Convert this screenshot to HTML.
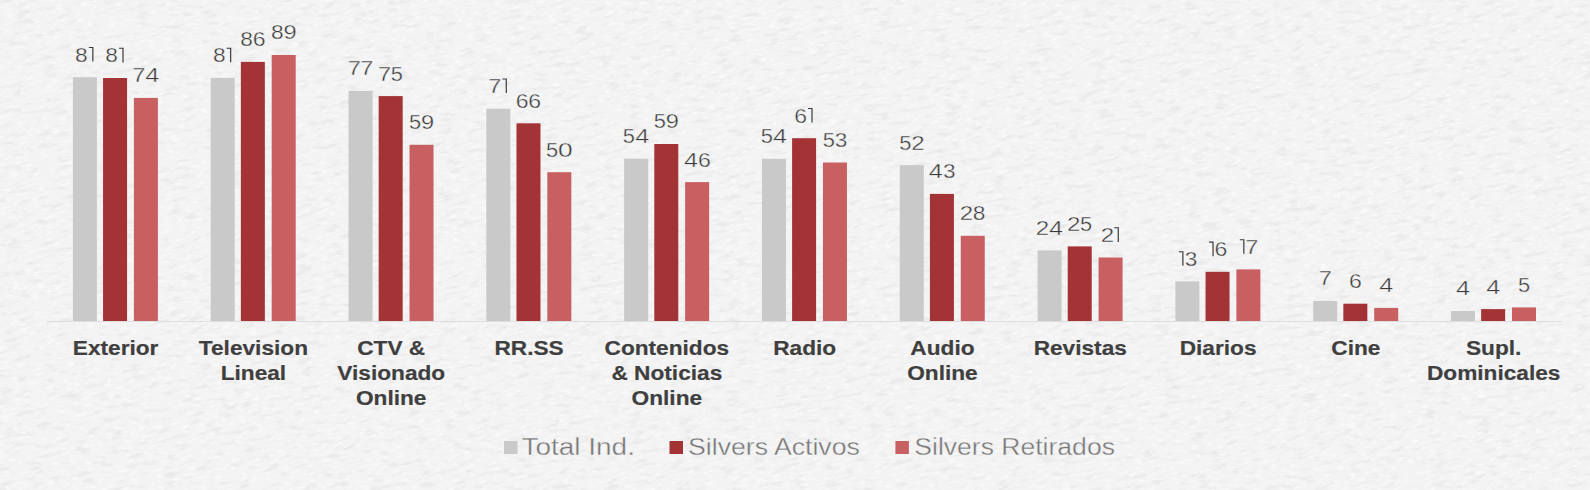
<!DOCTYPE html>
<html><head><meta charset="utf-8"><style>
html,body{margin:0;padding:0;width:1590px;height:490px;overflow:hidden;background:#f3f3f3;}
svg{display:block;font-family:"Liberation Sans",sans-serif;}
</style></head><body>
<svg width="1590" height="490" viewBox="0 0 1590 490">
<rect x="0" y="0" width="1590" height="490" fill="#f3f3f3"/>
<defs><filter id="pp" x="-400" y="-600" width="2400" height="1700" filterUnits="userSpaceOnUse">
<feTurbulence type="fractalNoise" baseFrequency="0.06 0.2" numOctaves="4" seed="7" result="n"/>
<feColorMatrix in="n" type="matrix" values="0 0 0 0 0  0 0 0 0 0  0 0 0 0 0  0 0 4.0 0 -2.0"/>
</filter>
<filter id="pw" x="-400" y="-600" width="2400" height="1700" filterUnits="userSpaceOnUse">
<feTurbulence type="fractalNoise" baseFrequency="0.12 0.4" numOctaves="3" seed="11" result="n"/>
<feColorMatrix in="n" type="matrix" values="0 0 0 0 1  0 0 0 0 1  0 0 0 0 1  0 0 4.0 0 -2.0"/>
</filter></defs>
<g transform="rotate(-10 795 245)">
<rect x="-400" y="-600" width="2400" height="1700" filter="url(#pp)" opacity="0.03"/>
<rect x="-400" y="-600" width="2400" height="1700" filter="url(#pw)" opacity="0.5"/>
</g>
<rect x="46.8" y="321.00" width="1515" height="1" fill="#dedede"/>
<rect x="72.90" y="77.20" width="24.0" height="243.80" fill="#c9c9c9"/>
<text transform="translate(81.45,61.60) scale(1.111,1) translate(-5.74,0)" font-size="20.5" fill="#3a3a3a" stroke="#f3f3f3" stroke-width="0.35">8</text>
<path d="M88.85,47.00H93.45V61.60H92.25V48.05H88.85Z" fill="#3a3a3a"/>
<rect x="103.05" y="78.00" width="24.0" height="243.00" fill="#a43335"/>
<text transform="translate(111.60,62.40) scale(1.111,1) translate(-5.74,0)" font-size="20.5" fill="#3a3a3a" stroke="#f3f3f3" stroke-width="0.35">8</text>
<path d="M119.00,47.80H123.60V62.40H122.40V48.85H119.00Z" fill="#3a3a3a"/>
<rect x="133.90" y="97.90" width="24.0" height="223.10" fill="#c86062"/>
<text transform="translate(138.70,82.30) scale(1.147,1) translate(-5.69,0)" font-size="20.5" fill="#3a3a3a" stroke="#f3f3f3" stroke-width="0.35">7</text>
<text transform="translate(152.15,82.30) scale(1.229,1) translate(-5.64,0)" font-size="20.5" fill="#3a3a3a" stroke="#f3f3f3" stroke-width="0.35">4</text>
<text x="0" y="0" transform="translate(115.60,355.10) scale(1.08,1)" text-anchor="middle" font-size="21.0" font-weight="bold" fill="#3f3f3f" stroke="#3f3f3f" stroke-width="0.2">Exterior</text>
<rect x="210.71" y="77.90" width="24.0" height="243.10" fill="#c9c9c9"/>
<text transform="translate(219.26,62.30) scale(1.111,1) translate(-5.74,0)" font-size="20.5" fill="#3a3a3a" stroke="#f3f3f3" stroke-width="0.35">8</text>
<path d="M226.66,47.70H231.26V62.30H230.06V48.75H226.66Z" fill="#3a3a3a"/>
<rect x="240.86" y="61.90" width="24.0" height="259.10" fill="#a43335"/>
<text transform="translate(246.66,46.30) scale(1.111,1) translate(-5.74,0)" font-size="20.5" fill="#3a3a3a" stroke="#f3f3f3" stroke-width="0.35">8</text>
<text transform="translate(259.11,46.30) scale(1.124,1) translate(-5.74,0)" font-size="20.5" fill="#3a3a3a" stroke="#f3f3f3" stroke-width="0.35">6</text>
<rect x="271.71" y="55.00" width="24.0" height="266.00" fill="#c86062"/>
<text transform="translate(277.31,39.40) scale(1.111,1) translate(-5.74,0)" font-size="20.5" fill="#3a3a3a" stroke="#f3f3f3" stroke-width="0.35">8</text>
<text transform="translate(289.96,39.40) scale(1.154,1) translate(-5.69,0)" font-size="20.5" fill="#3a3a3a" stroke="#f3f3f3" stroke-width="0.35">9</text>
<text x="0" y="0" transform="translate(253.41,355.10) scale(1.08,1)" text-anchor="middle" font-size="21.0" font-weight="bold" fill="#3f3f3f" stroke="#3f3f3f" stroke-width="0.2">Television</text>
<text x="0" y="0" transform="translate(253.41,380.00) scale(1.08,1)" text-anchor="middle" font-size="21.0" font-weight="bold" fill="#3f3f3f" stroke="#3f3f3f" stroke-width="0.2">Lineal</text>
<rect x="348.52" y="90.90" width="24.0" height="230.10" fill="#c9c9c9"/>
<text transform="translate(354.27,75.30) scale(1.147,1) translate(-5.69,0)" font-size="20.5" fill="#3a3a3a" stroke="#f3f3f3" stroke-width="0.35">7</text>
<text transform="translate(366.77,75.30) scale(1.147,1) translate(-5.69,0)" font-size="20.5" fill="#3a3a3a" stroke="#f3f3f3" stroke-width="0.35">7</text>
<rect x="378.67" y="96.10" width="24.0" height="224.90" fill="#a43335"/>
<text transform="translate(384.57,80.50) scale(1.147,1) translate(-5.69,0)" font-size="20.5" fill="#3a3a3a" stroke="#f3f3f3" stroke-width="0.35">7</text>
<text transform="translate(396.92,80.50) scale(1.068,1) translate(-5.69,0)" font-size="20.5" fill="#3a3a3a" stroke="#f3f3f3" stroke-width="0.35">5</text>
<rect x="409.52" y="144.80" width="24.0" height="176.20" fill="#c86062"/>
<text transform="translate(415.12,129.20) scale(1.068,1) translate(-5.69,0)" font-size="20.5" fill="#3a3a3a" stroke="#f3f3f3" stroke-width="0.35">5</text>
<text transform="translate(427.62,129.20) scale(1.154,1) translate(-5.69,0)" font-size="20.5" fill="#3a3a3a" stroke="#f3f3f3" stroke-width="0.35">9</text>
<text x="0" y="0" transform="translate(391.22,355.10) scale(1.08,1)" text-anchor="middle" font-size="21.0" font-weight="bold" fill="#3f3f3f" stroke="#3f3f3f" stroke-width="0.2">CTV &amp;</text>
<text x="0" y="0" transform="translate(391.22,380.00) scale(1.08,1)" text-anchor="middle" font-size="21.0" font-weight="bold" fill="#3f3f3f" stroke="#3f3f3f" stroke-width="0.2">Visionado</text>
<text x="0" y="0" transform="translate(391.22,405.20) scale(1.08,1)" text-anchor="middle" font-size="21.0" font-weight="bold" fill="#3f3f3f" stroke="#3f3f3f" stroke-width="0.2">Online</text>
<rect x="486.33" y="108.70" width="24.0" height="212.30" fill="#c9c9c9"/>
<text transform="translate(494.88,93.10) scale(1.147,1) translate(-5.69,0)" font-size="20.5" fill="#3a3a3a" stroke="#f3f3f3" stroke-width="0.35">7</text>
<path d="M502.28,78.50H506.88V93.10H505.68V79.55H502.28Z" fill="#3a3a3a"/>
<rect x="516.48" y="123.30" width="24.0" height="197.70" fill="#a43335"/>
<text transform="translate(522.28,107.70) scale(1.124,1) translate(-5.74,0)" font-size="20.5" fill="#3a3a3a" stroke="#f3f3f3" stroke-width="0.35">6</text>
<text transform="translate(534.68,107.70) scale(1.124,1) translate(-5.74,0)" font-size="20.5" fill="#3a3a3a" stroke="#f3f3f3" stroke-width="0.35">6</text>
<rect x="547.33" y="172.20" width="24.0" height="148.80" fill="#c86062"/>
<text transform="translate(552.18,156.60) scale(1.068,1) translate(-5.69,0)" font-size="20.5" fill="#3a3a3a" stroke="#f3f3f3" stroke-width="0.35">5</text>
<text transform="translate(565.43,156.60) scale(1.284,1) translate(-5.69,0)" font-size="20.5" fill="#3a3a3a" stroke="#f3f3f3" stroke-width="0.35">0</text>
<text x="0" y="0" transform="translate(529.03,355.10) scale(1.08,1)" text-anchor="middle" font-size="21.0" font-weight="bold" fill="#3f3f3f" stroke="#3f3f3f" stroke-width="0.2">RR.SS</text>
<rect x="624.14" y="158.70" width="24.0" height="162.30" fill="#c9c9c9"/>
<text transform="translate(628.94,143.10) scale(1.068,1) translate(-5.69,0)" font-size="20.5" fill="#3a3a3a" stroke="#f3f3f3" stroke-width="0.35">5</text>
<text transform="translate(642.24,143.10) scale(1.229,1) translate(-5.64,0)" font-size="20.5" fill="#3a3a3a" stroke="#f3f3f3" stroke-width="0.35">4</text>
<rect x="654.29" y="144.00" width="24.0" height="177.00" fill="#a43335"/>
<text transform="translate(659.89,128.40) scale(1.068,1) translate(-5.69,0)" font-size="20.5" fill="#3a3a3a" stroke="#f3f3f3" stroke-width="0.35">5</text>
<text transform="translate(672.39,128.40) scale(1.154,1) translate(-5.69,0)" font-size="20.5" fill="#3a3a3a" stroke="#f3f3f3" stroke-width="0.35">9</text>
<rect x="685.14" y="182.10" width="24.0" height="138.90" fill="#c86062"/>
<text transform="translate(690.94,166.50) scale(1.229,1) translate(-5.64,0)" font-size="20.5" fill="#3a3a3a" stroke="#f3f3f3" stroke-width="0.35">4</text>
<text transform="translate(704.34,166.50) scale(1.124,1) translate(-5.74,0)" font-size="20.5" fill="#3a3a3a" stroke="#f3f3f3" stroke-width="0.35">6</text>
<text x="0" y="0" transform="translate(666.84,355.10) scale(1.08,1)" text-anchor="middle" font-size="21.0" font-weight="bold" fill="#3f3f3f" stroke="#3f3f3f" stroke-width="0.2">Contenidos</text>
<text x="0" y="0" transform="translate(666.84,380.00) scale(1.08,1)" text-anchor="middle" font-size="21.0" font-weight="bold" fill="#3f3f3f" stroke="#3f3f3f" stroke-width="0.2">&amp; Noticias</text>
<text x="0" y="0" transform="translate(666.84,405.20) scale(1.08,1)" text-anchor="middle" font-size="21.0" font-weight="bold" fill="#3f3f3f" stroke="#3f3f3f" stroke-width="0.2">Online</text>
<rect x="761.95" y="158.80" width="24.0" height="162.20" fill="#c9c9c9"/>
<text transform="translate(766.75,143.20) scale(1.068,1) translate(-5.69,0)" font-size="20.5" fill="#3a3a3a" stroke="#f3f3f3" stroke-width="0.35">5</text>
<text transform="translate(780.05,143.20) scale(1.229,1) translate(-5.64,0)" font-size="20.5" fill="#3a3a3a" stroke="#f3f3f3" stroke-width="0.35">4</text>
<rect x="792.10" y="138.20" width="24.0" height="182.80" fill="#a43335"/>
<text transform="translate(800.65,122.60) scale(1.124,1) translate(-5.74,0)" font-size="20.5" fill="#3a3a3a" stroke="#f3f3f3" stroke-width="0.35">6</text>
<path d="M808.00,108.00H812.60V122.60H811.40V109.05H808.00Z" fill="#3a3a3a"/>
<rect x="822.95" y="162.50" width="24.0" height="158.50" fill="#c86062"/>
<text transform="translate(828.75,146.90) scale(1.068,1) translate(-5.69,0)" font-size="20.5" fill="#3a3a3a" stroke="#f3f3f3" stroke-width="0.35">5</text>
<text transform="translate(841.05,146.90) scale(1.100,1) translate(-5.64,0)" font-size="20.5" fill="#3a3a3a" stroke="#f3f3f3" stroke-width="0.35">3</text>
<text x="0" y="0" transform="translate(804.65,355.10) scale(1.08,1)" text-anchor="middle" font-size="21.0" font-weight="bold" fill="#3f3f3f" stroke="#3f3f3f" stroke-width="0.2">Radio</text>
<rect x="899.76" y="165.10" width="24.0" height="155.90" fill="#c9c9c9"/>
<text transform="translate(905.36,149.50) scale(1.068,1) translate(-5.69,0)" font-size="20.5" fill="#3a3a3a" stroke="#f3f3f3" stroke-width="0.35">5</text>
<text transform="translate(917.86,149.50) scale(1.179,1) translate(-5.69,0)" font-size="20.5" fill="#3a3a3a" stroke="#f3f3f3" stroke-width="0.35">2</text>
<rect x="929.91" y="193.90" width="24.0" height="127.10" fill="#a43335"/>
<text transform="translate(935.71,178.30) scale(1.229,1) translate(-5.64,0)" font-size="20.5" fill="#3a3a3a" stroke="#f3f3f3" stroke-width="0.35">4</text>
<text transform="translate(949.11,178.30) scale(1.100,1) translate(-5.64,0)" font-size="20.5" fill="#3a3a3a" stroke="#f3f3f3" stroke-width="0.35">3</text>
<rect x="960.76" y="235.80" width="24.0" height="85.20" fill="#c86062"/>
<text transform="translate(966.51,220.20) scale(1.179,1) translate(-5.69,0)" font-size="20.5" fill="#3a3a3a" stroke="#f3f3f3" stroke-width="0.35">2</text>
<text transform="translate(979.16,220.20) scale(1.111,1) translate(-5.74,0)" font-size="20.5" fill="#3a3a3a" stroke="#f3f3f3" stroke-width="0.35">8</text>
<text x="0" y="0" transform="translate(942.46,355.10) scale(1.08,1)" text-anchor="middle" font-size="21.0" font-weight="bold" fill="#3f3f3f" stroke="#3f3f3f" stroke-width="0.2">Audio</text>
<text x="0" y="0" transform="translate(942.46,380.00) scale(1.08,1)" text-anchor="middle" font-size="21.0" font-weight="bold" fill="#3f3f3f" stroke="#3f3f3f" stroke-width="0.2">Online</text>
<rect x="1037.57" y="250.40" width="24.0" height="70.60" fill="#c9c9c9"/>
<text transform="translate(1042.37,234.80) scale(1.179,1) translate(-5.69,0)" font-size="20.5" fill="#3a3a3a" stroke="#f3f3f3" stroke-width="0.35">2</text>
<text transform="translate(1055.97,234.80) scale(1.229,1) translate(-5.64,0)" font-size="20.5" fill="#3a3a3a" stroke="#f3f3f3" stroke-width="0.35">4</text>
<rect x="1067.72" y="246.40" width="24.0" height="74.60" fill="#a43335"/>
<text transform="translate(1073.62,230.80) scale(1.179,1) translate(-5.69,0)" font-size="20.5" fill="#3a3a3a" stroke="#f3f3f3" stroke-width="0.35">2</text>
<text transform="translate(1086.12,230.80) scale(1.068,1) translate(-5.69,0)" font-size="20.5" fill="#3a3a3a" stroke="#f3f3f3" stroke-width="0.35">5</text>
<rect x="1098.57" y="257.50" width="24.0" height="63.50" fill="#c86062"/>
<text transform="translate(1107.52,241.90) scale(1.179,1) translate(-5.69,0)" font-size="20.5" fill="#3a3a3a" stroke="#f3f3f3" stroke-width="0.35">2</text>
<path d="M1114.27,227.30H1118.87V241.90H1117.67V228.35H1114.27Z" fill="#3a3a3a"/>
<text x="0" y="0" transform="translate(1080.27,355.10) scale(1.08,1)" text-anchor="middle" font-size="21.0" font-weight="bold" fill="#3f3f3f" stroke="#3f3f3f" stroke-width="0.2">Revistas</text>
<rect x="1175.38" y="281.40" width="24.0" height="39.60" fill="#c9c9c9"/>
<path d="M1178.88,251.20H1183.48V265.80H1182.28V252.25H1178.88Z" fill="#3a3a3a"/>
<text transform="translate(1190.83,265.80) scale(1.100,1) translate(-5.64,0)" font-size="20.5" fill="#3a3a3a" stroke="#f3f3f3" stroke-width="0.35">3</text>
<rect x="1205.53" y="271.80" width="24.0" height="49.20" fill="#a43335"/>
<path d="M1209.03,241.60H1213.63V256.20H1212.43V242.65H1209.03Z" fill="#3a3a3a"/>
<text transform="translate(1220.98,256.20) scale(1.124,1) translate(-5.74,0)" font-size="20.5" fill="#3a3a3a" stroke="#f3f3f3" stroke-width="0.35">6</text>
<rect x="1236.38" y="269.40" width="24.0" height="51.60" fill="#c86062"/>
<path d="M1239.83,239.20H1244.43V253.80H1243.23V240.25H1239.83Z" fill="#3a3a3a"/>
<text transform="translate(1251.83,253.80) scale(1.147,1) translate(-5.69,0)" font-size="20.5" fill="#3a3a3a" stroke="#f3f3f3" stroke-width="0.35">7</text>
<text x="0" y="0" transform="translate(1218.08,355.10) scale(1.08,1)" text-anchor="middle" font-size="21.0" font-weight="bold" fill="#3f3f3f" stroke="#3f3f3f" stroke-width="0.2">Diarios</text>
<rect x="1313.19" y="300.90" width="24.0" height="20.10" fill="#c9c9c9"/>
<text transform="translate(1325.19,285.30) scale(1.147,1) translate(-5.69,0)" font-size="20.5" fill="#3a3a3a" stroke="#f3f3f3" stroke-width="0.35">7</text>
<rect x="1343.34" y="303.70" width="24.0" height="17.30" fill="#a43335"/>
<text transform="translate(1355.34,288.10) scale(1.124,1) translate(-5.74,0)" font-size="20.5" fill="#3a3a3a" stroke="#f3f3f3" stroke-width="0.35">6</text>
<rect x="1374.19" y="307.90" width="24.0" height="13.10" fill="#c86062"/>
<text transform="translate(1386.19,292.30) scale(1.229,1) translate(-5.64,0)" font-size="20.5" fill="#3a3a3a" stroke="#f3f3f3" stroke-width="0.35">4</text>
<text x="0" y="0" transform="translate(1355.89,355.10) scale(1.08,1)" text-anchor="middle" font-size="21.0" font-weight="bold" fill="#3f3f3f" stroke="#3f3f3f" stroke-width="0.2">Cine</text>
<rect x="1451.00" y="311.00" width="24.0" height="10.00" fill="#c9c9c9"/>
<text transform="translate(1463.00,295.40) scale(1.229,1) translate(-5.64,0)" font-size="20.5" fill="#3a3a3a" stroke="#f3f3f3" stroke-width="0.35">4</text>
<rect x="1481.15" y="309.10" width="24.0" height="11.90" fill="#a43335"/>
<text transform="translate(1493.15,293.50) scale(1.229,1) translate(-5.64,0)" font-size="20.5" fill="#3a3a3a" stroke="#f3f3f3" stroke-width="0.35">4</text>
<rect x="1512.00" y="307.40" width="24.0" height="13.60" fill="#c86062"/>
<text transform="translate(1524.00,291.80) scale(1.068,1) translate(-5.69,0)" font-size="20.5" fill="#3a3a3a" stroke="#f3f3f3" stroke-width="0.35">5</text>
<text x="0" y="0" transform="translate(1493.70,355.10) scale(1.08,1)" text-anchor="middle" font-size="21.0" font-weight="bold" fill="#3f3f3f" stroke="#3f3f3f" stroke-width="0.2">Supl.</text>
<text x="0" y="0" transform="translate(1493.70,380.00) scale(1.08,1)" text-anchor="middle" font-size="21.0" font-weight="bold" fill="#3f3f3f" stroke="#3f3f3f" stroke-width="0.2">Dominicales</text>
<rect x="504" y="441" width="13.5" height="13" fill="#c9c9c9"/>
<text x="0" y="0" transform="translate(521.50,454.50) scale(1.19,1)" text-anchor="start" font-size="23.5" font-weight="normal" fill="#777777" stroke="#f3f3f3" stroke-width="0.35">Total Ind.</text>
<rect x="669.5" y="441" width="13.5" height="13" fill="#a43335"/>
<text x="0" y="0" transform="translate(688.00,454.50) scale(1.135,1)" text-anchor="start" font-size="23.5" font-weight="normal" fill="#777777" stroke="#f3f3f3" stroke-width="0.35">Silvers Activos</text>
<rect x="895.4" y="441" width="13.5" height="13" fill="#c86062"/>
<text x="0" y="0" transform="translate(914.30,454.50) scale(1.13,1)" text-anchor="start" font-size="23.5" font-weight="normal" fill="#777777" stroke="#f3f3f3" stroke-width="0.35">Silvers Retirados</text>
</svg>
</body></html>
